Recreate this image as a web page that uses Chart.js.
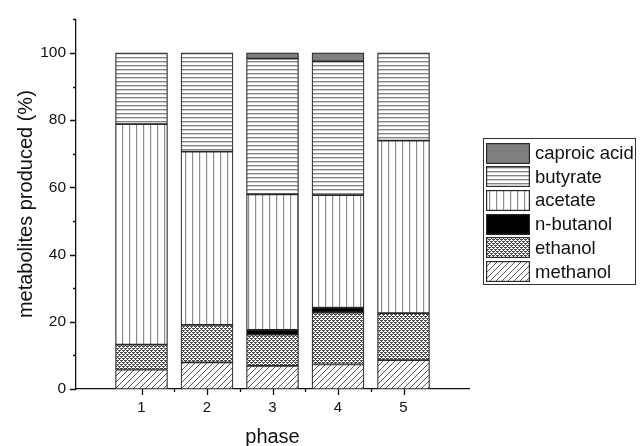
<!DOCTYPE html>
<html>
<head>
<meta charset="utf-8">
<script src="https://cdn.jsdelivr.net/npm/chart.js@4/dist/chart.umd.min.js"></script>
<style>
  html, body { margin: 0; padding: 0; background: #fff; }
  #wrap { position: relative; width: 640px; height: 446px; }
  #legend {
    position: absolute; left: 483px; top: 138px; width: 153px; height: 147px;
    border: 1px solid #333; box-sizing: border-box; background: #fff;
    font-family: "Liberation Sans", Arial, sans-serif; font-size: 18.5px; color: #111;
  }
  .item { position: absolute; left: 2px; height: 22px; display: flex; align-items: center; }
  .item canvas { width: 44px; height: 21px; display: block; margin-right: 5px; }
</style>
</head>
<body>
<div id="wrap">
  <canvas id="chart" width="640" height="446"></canvas>
  <div id="legend"></div>
</div>
<script>
// data (percent of metabolites per phase)
const phases = [1, 2, 3, 4, 5];
const methanol = [5.8, 7.9, 6.9, 7.3, 8.6];
const ethanol = [7.4, 11.2, 9.3, 15.4, 14.0];
const nButanol = [null, null, 1.4, 1.5, null];
const acetate = [65.6, 51.5, 40.3, 33.5, 51.3];
const butyrate = [21.2, 29.4, 40.4, 39.8, 26.1];
const caproicAcid = [null, null, 1.7, 2.5, null];

const yTicks = [0, 20, 40, 60, 80, 100];

// =========================
// PATTERNS
// =========================
function makePattern(kind) {
    const c = document.createElement('canvas');
    const ctx = c.getContext('2d');
    if (kind === 'diag') {
        c.width = 6; c.height = 6;
        ctx.fillStyle = '#fff'; ctx.fillRect(0, 0, 6, 6);
        ctx.strokeStyle = '#444'; ctx.lineWidth = 0.9;
        ctx.beginPath();
        ctx.moveTo(-1, 7); ctx.lineTo(7, -1);
        ctx.moveTo(-1, 1); ctx.lineTo(1, -1);
        ctx.moveTo(5, 7); ctx.lineTo(7, 5);
        ctx.stroke();
    } else if (kind === 'cross') {
        c.width = 4; c.height = 4;
        ctx.fillStyle = '#fff'; ctx.fillRect(0, 0, 4, 4);
        ctx.fillStyle = '#4a4a4a';
        ctx.fillRect(0, 0, 2, 1); ctx.fillRect(2, 2, 2, 1);
        ctx.fillRect(1, 1, 1, 1); ctx.fillRect(3, 3, 1, 1);
        ctx.fillRect(0, 2, 1, 1); ctx.fillRect(2, 0, 1, 1);
    } else if (kind === 'vert') {
        c.width = 7; c.height = 4;
        ctx.fillStyle = '#fff'; ctx.fillRect(0, 0, 7, 4);
        ctx.fillStyle = '#8c8c8c'; ctx.fillRect(3, 0, 1.2, 4);
    } else if (kind === 'horiz') {
        c.width = 4; c.height = 4;
        ctx.fillStyle = '#fff'; ctx.fillRect(0, 0, 4, 4);
        ctx.fillStyle = '#858585'; ctx.fillRect(0, 1, 4, 1.4);
    }
    return ctx.createPattern(c, 'repeat');
}

const styles = {
    methanol: makePattern('diag'),
    ethanol: makePattern('cross'),
    nButanol: '#000',
    acetate: makePattern('vert'),
    butyrate: makePattern('horiz'),
    caproic: '#7f7f7f',
};

const series = [
    { label: 'methanol', values: methanol, fill: styles.methanol },
    { label: 'ethanol', values: ethanol, fill: styles.ethanol },
    { label: 'n-butanol', values: nButanol, fill: styles.nButanol },
    { label: 'acetate', values: acetate, fill: styles.acetate },
    { label: 'butyrate', values: butyrate, fill: styles.butyrate },
    { label: 'caproic acid', values: caproicAcid, fill: styles.caproic },
];

const datasets = series.map((s) => ({
    label: s.label,
    data: phases.map((p, i) => ({ x: p, y: s.values[i] })),
    backgroundColor: s.fill,
    borderColor: '#2a2a2a',
    borderWidth: 1.2,
    borderSkipped: false,
    barThickness: 52,
}));

// minor / major tick marks drawn outside the axes
const axisTicks = {
    id: 'axisTicks',
    afterDraw(chart) {
        const { ctx, chartArea } = chart;
        const x = chart.scales.x;
        const y = chart.scales.y;
        ctx.save();
        ctx.strokeStyle = '#111';
        ctx.lineWidth = 1.3;
        ctx.beginPath();
        for (let v = 0; v <= 110; v += 10) {
            const py = Math.round(y.getPixelForValue(v)) + 0.5;
            const len = v % 20 === 0 ? 6 : 3;
            ctx.moveTo(chartArea.left, py);
            ctx.lineTo(chartArea.left - len, py);
        }
        for (let v = 1; v <= 5; v += 0.5) {
            const px = Math.round(x.getPixelForValue(v)) + 0.5;
            const len = Number.isInteger(v) ? 6 : 3;
            ctx.moveTo(px, chartArea.bottom);
            ctx.lineTo(px, chartArea.bottom + len);
        }
        ctx.stroke();
        ctx.restore();
    },
};

const font = '"Liberation Sans", Arial, sans-serif';

new Chart(document.getElementById('chart'), {
    type: 'bar',
    data: { datasets },
    options: {
        responsive: false,
        animation: false,
        layout: { padding: { top: 14, right: 171, left: 0, bottom: 0 } },
        plugins: {
            legend: { display: false },
            tooltip: { enabled: false },
        },
        scales: {
            x: {
                type: 'linear',
                stacked: true,
                offset: false,
                min: 0,
                max: 6,
                grid: { display: false, drawTicks: false },
                border: { display: true, color: '#111', width: 1.3 },
                ticks: {
                    stepSize: 1,
                    padding: 10,
                    color: '#111',
                    font: { family: font, size: 15 },
                    callback: (v) => (v >= 1 && v <= 5 && Number.isInteger(v) ? String(v) : ''),
                },
                title: {
                    display: true,
                    text: 'phase',
                    color: '#111',
                    font: { family: font, size: 20 },
                    padding: { top: 4, bottom: -3 },
                },
                afterFit: (scale) => { scale.height = 57; },
            },
            y: {
                stacked: true,
                min: 0,
                max: 110,
                grid: { display: false, drawTicks: false },
                border: { display: true, color: '#111', width: 1.3 },
                ticks: {
                    stepSize: 10,
                    padding: 10,
                    color: '#111',
                    font: { family: font, size: 15.5 },
                    callback: (v) => (yTicks.includes(v) ? String(v) : ''),
                },
                title: {
                    display: true,
                    text: 'metabolites produced (%)',
                    color: '#111',
                    font: { family: font, size: 20 },
                    padding: { top: 14, bottom: 0 },
                },
                afterFit: (scale) => { scale.width = 76; },
            },
        },
    },
    plugins: [axisTicks],
});

// legend, top entry is the top of the stack
const legend = document.getElementById('legend');
series.slice().reverse().forEach((s, i) => {
    const item = document.createElement('div');
    item.className = 'item';
    item.style.top = (3 + i * 23.7) + 'px';
    const sw = document.createElement('canvas');
    sw.width = 44; sw.height = 21;
    const sctx = sw.getContext('2d');
    sctx.fillStyle = s.fill;
    sctx.fillRect(0, 0, 44, 21);
    sctx.strokeStyle = '#2a2a2a';
    sctx.lineWidth = 1.2;
    sctx.strokeRect(0.6, 0.6, 42.8, 19.8);
    const span = document.createElement('span');
    span.textContent = s.label;
    item.appendChild(sw);
    item.appendChild(span);
    legend.appendChild(item);
});
</script>
</body>
</html>
